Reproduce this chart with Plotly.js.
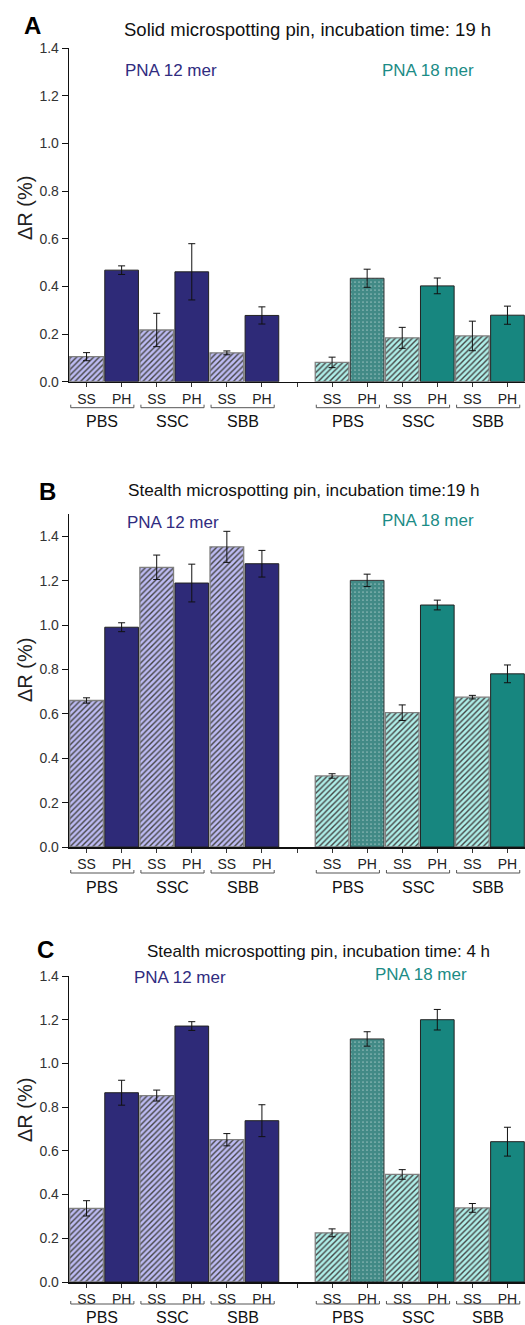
<!DOCTYPE html>
<html>
<head>
<meta charset="utf-8">
<script src="https://cdn.plot.ly/plotly-3.0.1.min.js"></script>
<style>html,body{margin:0;padding:0;background:#fff;}#chart{width:525px;height:1325px;}</style>
</head>
<body>
<div id="chart"></div>
<script>
// ---- data ----
const probes = ['SS', 'PH', 'SS', 'PH', 'SS', 'PH'];
const buffers = ['PBS', 'SSC', 'SBB'];
const groups = ['PNA 12 mer', 'PNA 18 mer'];
const panelLetters = ['A', 'B', 'C'];
const panelTitles = [
  'Solid microspotting pin, incubation time: 19 h',
  'Stealth microspotting pin, incubation time:19 h',
  'Stealth microspotting pin, incubation time: 4 h'
];
const yTicks = [0, 0.2, 0.4, 0.6, 0.8, 1.0, 1.2, 1.4];

const A12 = [0.105, 0.468, 0.217, 0.461, 0.121, 0.278];
const A12err = [0.017, 0.018, 0.070, 0.118, 0.008, 0.036];
const A18 = [0.081, 0.434, 0.184, 0.402, 0.192, 0.279];
const A18err = [0.022, 0.038, 0.044, 0.033, 0.062, 0.038];

const B12 = [0.660, 0.990, 1.260, 1.189, 1.352, 1.276];
const B12err = [0.012, 0.020, 0.055, 0.085, 0.070, 0.060];
const B18 = [0.320, 1.201, 0.605, 1.090, 0.675, 0.780];
const B18err = [0.010, 0.028, 0.035, 0.022, 0.008, 0.040];

const C12 = [0.337, 0.866, 0.853, 1.171, 0.651, 0.738];
const C12err = [0.035, 0.057, 0.025, 0.020, 0.028, 0.073];
const C18 = [0.225, 1.112, 0.492, 1.200, 0.339, 0.642];
const C18err = [0.018, 0.033, 0.022, 0.047, 0.020, 0.066];

// ---- styling ----
const FONT = '"Liberation Sans", Arial, sans-serif';
const W = 525, H = 1325;
const NAVY = '#2E2A78', TEAL = '#17867F', TEAL_GREY = '#428A86';
const px = x => x / W;
const py = y => 1 - y / H;

const panels = [
  {zero: 381.7, top: 48, ymax: 1.4, titleY: 30, titleX: 307, titleSize: 18.5, letterX: 32, letterY: 26,
   pna: [[123, 71], [380, 71]], yTitleY: 208, brk: 26, lab: 39.5,
   data: [A12, A18], err: [A12err, A18err]},
  {zero: 847, top: 514, ymax: 1.5, titleY: 490, titleX: 304, titleSize: 17.2, letterX: 47, letterY: 491,
   pna: [[125, 522], [380, 520]], yTitleY: 670, brk: 26, lab: 40,
   data: [B12, B18], err: [B12err, B18err]},
  {zero: 1282, top: 976, ymax: 1.4, titleY: 951, titleX: 318, titleSize: 17, letterX: 45, letterY: 950,
   pna: [[132, 977], [373, 975]], yTitleY: 1110, brk: 22, lab: 35,
   data: [C12, C18], err: [C12err, C18err]}
];

const traces = [];
const layout = {
  width: W, height: H,
  margin: {l: 0, r: 0, t: 0, b: 0},
  paper_bgcolor: '#ffffff', plot_bgcolor: 'rgba(0,0,0,0)',
  showlegend: false,
  font: {family: FONT, color: '#222'},
  annotations: [], shapes: []
};

const tickPositions = [];
const tickTexts = [];
groups.forEach((g, gi) => probes.forEach((p, i) => { tickPositions.push(gi * 7 + i); tickTexts.push(p); }));
const allTickVals = tickPositions.concat([6]);
const allTickText = tickTexts.concat(['']);

panels.forEach((P, k) => {
  const n = k === 0 ? '' : String(k + 1);
  const xs = [], ys = [], es = [], shapes = [], fg = [], cols = [], lcols = [], lw = [], sol = [];
  groups.forEach((g, gi) => {
    P.data[gi].forEach((v, i) => {
      xs.push(gi * 7 + i); ys.push(v); es.push(P.err[gi][i]);
      const isSS = probes[i] === 'SS';
      if (isSS) {
        shapes.push('/');
        fg.push(gi === 0 ? '#34309A' : '#178A83');
        cols.push(gi === 0 ? '#BDBBF3' : '#AEEEE8');
        lcols.push('#808080'); lw.push(1.3); sol.push(0.35);
      } else if (gi === 1 && i === 1) {
        shapes.push('.');
        fg.push('#3B837F');
        cols.push(TEAL_GREY);
        lcols.push('#333'); lw.push(1); sol.push(0.06);
      } else {
        shapes.push('');
        fg.push(gi === 0 ? NAVY : TEAL);
        cols.push(gi === 0 ? NAVY : TEAL);
        lcols.push('#222'); lw.push(1); sol.push(0.5);
      }
    });
  });
  traces.push({
    type: 'bar', x: xs, y: ys, width: 0.96,
    xaxis: 'x' + n, yaxis: 'y' + n,
    marker: {
      color: cols,
      line: {color: lcols, width: lw},
      pattern: {shape: shapes, fgcolor: fg, fillmode: 'overlay', fgopacity: 1, size: 4, solidity: sol}
    },
    error_y: {type: 'data', array: es, visible: true, color: '#111', thickness: 1, width: 3.5},
    hoverinfo: 'skip'
  });

  const yDom = [py(P.zero), py(P.top)];
  layout['xaxis' + n] = {
    domain: [px(69), 1], range: [-0.5, 12.5], anchor: 'y' + n,
    showline: true, linecolor: '#111', linewidth: 1.5,
    tickmode: 'array', tickvals: allTickVals, ticktext: allTickText,
    ticks: 'outside', ticklen: 4, tickcolor: '#333', tickwidth: 1,
    tickfont: {family: FONT, size: 14, color: '#222'},
    showgrid: false, zeroline: false, fixedrange: true
  };
  layout['yaxis' + n] = {
    domain: yDom, range: [0, P.ymax], anchor: 'x' + n,
    showline: true, linecolor: '#111', linewidth: 1.3,
    tickmode: 'array', tickvals: yTicks, ticktext: yTicks.map(t => t.toFixed(1)),
    ticks: 'outside', ticklen: 6, tickcolor: '#111', tickwidth: 1,
    tickfont: {family: FONT, size: 14, color: '#333'},
    showgrid: false, zeroline: false, fixedrange: true
  };

  layout.annotations.push({
    text: '<b>' + panelLetters[k] + '</b>', xref: 'paper', yref: 'paper',
    x: px(P.letterX), y: py(P.letterY), xanchor: 'center', yanchor: 'middle', showarrow: false,
    font: {family: FONT, size: 24, color: '#000'}
  });
  layout.annotations.push({
    text: panelTitles[k], xref: 'paper', yref: 'paper',
    x: px(P.titleX), y: py(P.titleY), xanchor: 'center', yanchor: 'middle', showarrow: false,
    font: {family: FONT, size: P.titleSize, color: '#111'}
  });
  groups.forEach((g, gi) => {
    layout.annotations.push({
      text: g, xref: 'paper', yref: 'paper',
      x: px(P.pna[gi][0]), y: py(P.pna[gi][1]), xanchor: 'left', yanchor: 'middle', showarrow: false,
      font: {family: FONT, size: 17, color: gi === 0 ? '#302C80' : '#1B8C86'}
    });
  });
  layout.annotations.push({
    text: 'ΔR (%)', xref: 'paper', yref: 'paper', textangle: -90,
    x: px(25), y: py(P.yTitleY), xanchor: 'center', yanchor: 'middle', showarrow: false,
    font: {family: FONT, size: 20, color: '#222'}
  });
  groups.forEach((g, gi) => {
    buffers.forEach((b, bi) => {
      const c0 = gi * 7 + bi * 2;
      const yb = py(P.zero + P.brk), yt = py(P.zero + P.brk - 3);
      layout.shapes.push({
        type: 'path', xref: 'x' + n, yref: 'paper',
        path: `M ${c0 - 0.45},${yt} L ${c0 - 0.45},${yb} L ${c0 + 1.35},${yb} L ${c0 + 1.35},${yt}`,
        line: {color: '#555', width: 1}
      });
      layout.annotations.push({
        text: b, xref: 'x' + n, yref: 'paper',
        x: c0 + 0.45, y: py(P.zero + P.lab), xanchor: 'center', yanchor: 'middle', showarrow: false,
        font: {family: FONT, size: 16, color: '#111'}
      });
    });
  });
});

Plotly.newPlot('chart', traces, layout, {staticPlot: true, displayModeBar: false});
</script>
</body>
</html>
